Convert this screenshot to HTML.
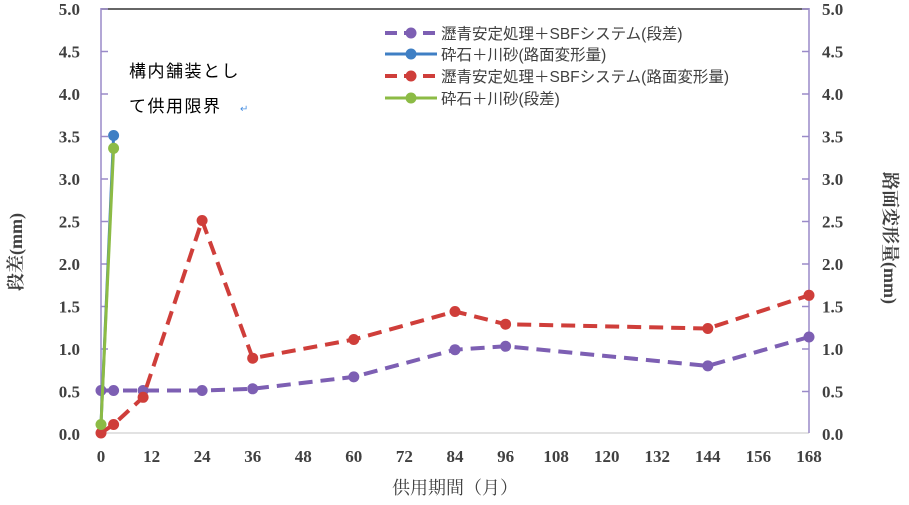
<!DOCTYPE html>
<html><head><meta charset="utf-8"><style>body{margin:0;background:#fff}svg text{font-family:"Liberation Serif","Noto Serif CJK SC",serif}svg text.s{font-family:"Liberation Sans","Noto Sans CJK JP",sans-serif}</style></head><body>
<svg width="909" height="500" xmlns="http://www.w3.org/2000/svg">
<line x1="101" y1="9" x2="809" y2="9" stroke="#333" stroke-width="1.5"/>
<line x1="101" y1="433" x2="809" y2="433" stroke="#d9d9d9" stroke-width="1.5"/>
<line x1="101" y1="8" x2="101" y2="433" stroke="#9a8ac8" stroke-width="1.5"/>
<line x1="809" y1="8" x2="809" y2="433" stroke="#9a8ac8" stroke-width="1.5"/>
<g stroke="#9a8ac8" stroke-width="1.5">
<line x1="101" y1="9" x2="108" y2="9"/><line x1="101" y1="51.5" x2="108" y2="51.5"/><line x1="101" y1="94" x2="108" y2="94"/><line x1="101" y1="136.5" x2="108" y2="136.5"/><line x1="101" y1="179" x2="108" y2="179"/><line x1="101" y1="221.5" x2="108" y2="221.5"/><line x1="101" y1="264" x2="108" y2="264"/><line x1="101" y1="306.5" x2="108" y2="306.5"/><line x1="101" y1="349" x2="108" y2="349"/><line x1="101" y1="391.5" x2="108" y2="391.5"/>
<line x1="802" y1="9" x2="809" y2="9"/><line x1="802" y1="51.5" x2="809" y2="51.5"/><line x1="802" y1="94" x2="809" y2="94"/><line x1="802" y1="136.5" x2="809" y2="136.5"/><line x1="802" y1="179" x2="809" y2="179"/><line x1="802" y1="221.5" x2="809" y2="221.5"/><line x1="802" y1="264" x2="809" y2="264"/><line x1="802" y1="306.5" x2="809" y2="306.5"/><line x1="802" y1="349" x2="809" y2="349"/><line x1="802" y1="391.5" x2="809" y2="391.5"/>
</g>
<g font-size="17" font-weight="bold" fill="#404040" text-anchor="end">
<text x="80" y="15">5.0</text><text x="80" y="57.5">4.5</text><text x="80" y="100">4.0</text><text x="80" y="142.5">3.5</text><text x="80" y="185">3.0</text><text x="80" y="227.5">2.5</text><text x="80" y="270">2.0</text><text x="80" y="312.5">1.5</text><text x="80" y="355">1.0</text><text x="80" y="397.5">0.5</text><text x="80" y="440">0.0</text>
</g>
<g font-size="17" font-weight="bold" fill="#404040">
<text x="822" y="15">5.0</text><text x="822" y="57.5">4.5</text><text x="822" y="100">4.0</text><text x="822" y="142.5">3.5</text><text x="822" y="185">3.0</text><text x="822" y="227.5">2.5</text><text x="822" y="270">2.0</text><text x="822" y="312.5">1.5</text><text x="822" y="355">1.0</text><text x="822" y="397.5">0.5</text><text x="822" y="440">0.0</text>
</g>
<g font-size="17" font-weight="bold" fill="#404040" text-anchor="middle">
<text x="101" y="462">0</text><text x="151.6" y="462">12</text><text x="202.1" y="462">24</text><text x="252.7" y="462">36</text><text x="303.2" y="462">48</text><text x="353.8" y="462">60</text><text x="404.4" y="462">72</text><text x="455" y="462">84</text><text x="505.6" y="462">96</text><text x="556.1" y="462">108</text><text x="606.7" y="462">120</text><text x="657.2" y="462">132</text><text x="707.8" y="462">144</text><text x="758.4" y="462">156</text><text x="809" y="462">168</text>
</g>
<text x="455" y="494" font-size="18" fill="#404040" text-anchor="middle">供用期間（月）</text>
<text transform="translate(22,252) rotate(-90)" font-size="18" font-weight="bold" fill="#404040" text-anchor="middle">段差(mm)</text>
<text transform="translate(884,238) rotate(90)" font-size="18" font-weight="bold" fill="#404040" text-anchor="middle">路面変形量(mm)</text>
<text class="s" x="129" y="77" font-size="17" letter-spacing="1.5" fill="#000">構内舗装とし</text>
<text class="s" x="129" y="112" font-size="17" letter-spacing="1.5" fill="#000">て供用限界</text>
<text x="240" y="112" font-size="10" fill="#4a90e2">↵</text>
<polyline points="101,390.5 113.6,390.5 143.1,390.5 202.1,390.5 252.7,388.8 353.8,376.9 455,349.7 505.6,346.3 707.8,365.9 809,337" fill="none" stroke="#7d5fb3" stroke-width="4" stroke-dasharray="14,8"/>
<g fill="#7d5fb3"><circle cx="101" cy="390.5" r="5.5"/><circle cx="113.6" cy="390.5" r="5.5"/><circle cx="143.1" cy="390.5" r="5.5"/><circle cx="202.1" cy="390.5" r="5.5"/><circle cx="252.7" cy="388.8" r="5.5"/><circle cx="353.8" cy="376.9" r="5.5"/><circle cx="455" cy="349.7" r="5.5"/><circle cx="505.6" cy="346.3" r="5.5"/><circle cx="707.8" cy="365.9" r="5.5"/><circle cx="809" cy="337" r="5.5"/></g>
<polyline points="101,433 113.6,424.5 143.1,397.3 202.1,220.5 252.7,358.2 353.8,339.5 455,311.5 505.6,324.2 707.8,328.5 809,295.3" fill="none" stroke="#cf3e3a" stroke-width="4" stroke-dasharray="14,8"/>
<g fill="#cf3e3a"><circle cx="101" cy="433" r="5.5"/><circle cx="113.6" cy="424.5" r="5.5"/><circle cx="143.1" cy="397.3" r="5.5"/><circle cx="202.1" cy="220.5" r="5.5"/><circle cx="252.7" cy="358.2" r="5.5"/><circle cx="353.8" cy="339.5" r="5.5"/><circle cx="455" cy="311.5" r="5.5"/><circle cx="505.6" cy="324.2" r="5.5"/><circle cx="707.8" cy="328.5" r="5.5"/><circle cx="809" cy="295.3" r="5.5"/></g>
<polyline points="101,424.5 113.6,135.5" fill="none" stroke="#3f7fc4" stroke-width="3"/>
<circle cx="113.6" cy="135.5" r="5.5" fill="#3f7fc4"/>
<polyline points="101,424.5 113.6,148.3" fill="none" stroke="#8cbb45" stroke-width="3"/>
<circle cx="101" cy="424.5" r="5.5" fill="#8cbb45"/><circle cx="113.6" cy="148.3" r="5.5" fill="#8cbb45"/>
<line x1="385" y1="33" x2="437" y2="33" stroke="#7d5fb3" stroke-width="4" stroke-dasharray="12,7"/><circle cx="411" cy="33" r="5.5" fill="#7d5fb3"/>
<text class="s" x="441" y="39" font-size="15.5" fill="#404040">瀝青安定処理＋SBFシステム(段差)</text>
<line x1="385" y1="54" x2="437" y2="54" stroke="#3f7fc4" stroke-width="3"/><circle cx="411" cy="54" r="5.5" fill="#3f7fc4"/>
<text class="s" x="441" y="60" font-size="15.5" fill="#404040">砕石＋川砂(路面変形量)</text>
<line x1="385" y1="76" x2="437" y2="76" stroke="#cf3e3a" stroke-width="4" stroke-dasharray="12,7"/><circle cx="411" cy="76" r="5.5" fill="#cf3e3a"/>
<text class="s" x="441" y="82" font-size="15.5" fill="#404040">瀝青安定処理＋SBFシステム(路面変形量)</text>
<line x1="385" y1="98" x2="437" y2="98" stroke="#8cbb45" stroke-width="3"/><circle cx="411" cy="98" r="5.5" fill="#8cbb45"/>
<text class="s" x="441" y="104" font-size="15.5" fill="#404040">砕石＋川砂(段差)</text>
</svg>
</body></html>
